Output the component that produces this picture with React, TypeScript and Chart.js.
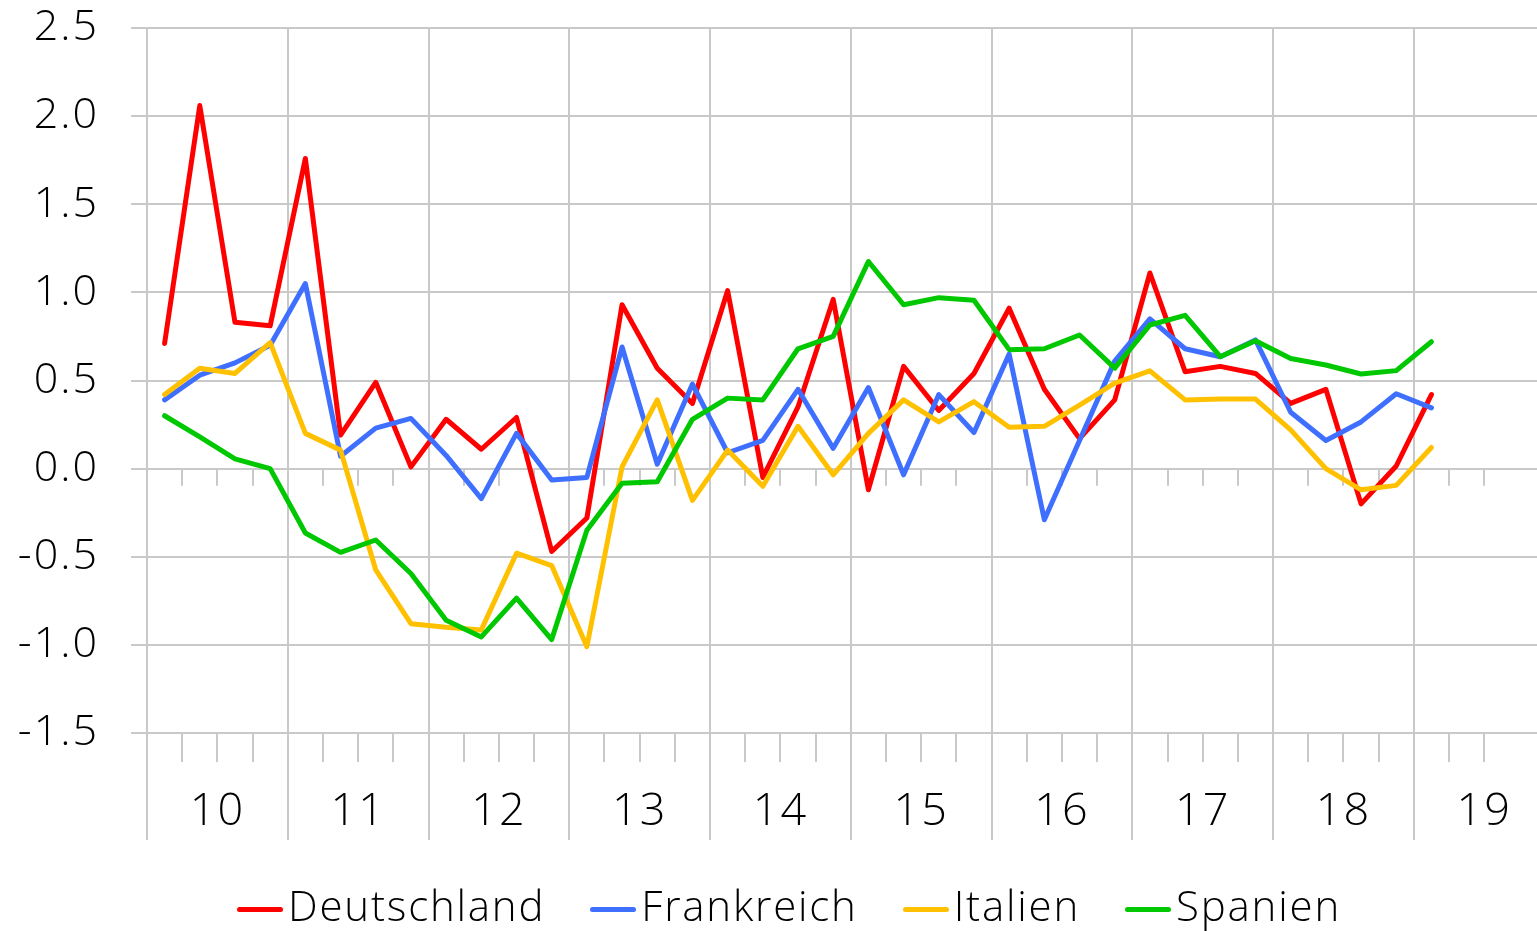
import React, { useEffect, useRef } from 'react';
import { Chart, registerables } from 'chart.js';

Chart.register(...registerables);

// Quarterly categories 2010 Q1 .. 2019 Q1
const quarters = [
  '2010Q1', '2010Q2', '2010Q3', '2010Q4',
  '2011Q1', '2011Q2', '2011Q3', '2011Q4',
  '2012Q1', '2012Q2', '2012Q3', '2012Q4',
  '2013Q1', '2013Q2', '2013Q3', '2013Q4',
  '2014Q1', '2014Q2', '2014Q3', '2014Q4',
  '2015Q1', '2015Q2', '2015Q3', '2015Q4',
  '2016Q1', '2016Q2', '2016Q3', '2016Q4',
  '2017Q1', '2017Q2', '2017Q3', '2017Q4',
  '2018Q1', '2018Q2', '2018Q3', '2018Q4',
  '2019Q1',
];

const yearLabels = ['10', '11', '12', '13', '14', '15', '16', '17', '18', '19'];

const deutschland = [
  0.71, 2.06, 0.83, 0.81, 1.76, 0.19, 0.49, 0.01, 0.28, 0.11, 0.29, -0.47,
  -0.28, 0.93, 0.57, 0.37, 1.01, -0.05, 0.35, 0.96, -0.12, 0.58, 0.33, 0.54,
  0.91, 0.45, 0.17, 0.39, 1.11, 0.55, 0.58, 0.54, 0.37, 0.45, -0.2, 0.015, 0.42,
];
const frankreich = [
  0.39, 0.53, 0.6, 0.7, 1.05, 0.07, 0.23, 0.285, 0.075, -0.17, 0.2, -0.065,
  -0.05, 0.69, 0.025, 0.48, 0.09, 0.16, 0.45, 0.115, 0.46, -0.035, 0.42, 0.205,
  0.65, -0.29, 0.16, 0.61, 0.85, 0.68, 0.635, 0.73, 0.32, 0.16, 0.265, 0.425, 0.345,
];
const italien = [
  0.42, 0.57, 0.54, 0.715, 0.2, 0.105, -0.575, -0.88, -0.9, -0.915, -0.48, -0.55,
  -1.01, 0.01, 0.39, -0.18, 0.105, -0.1, 0.24, -0.035, 0.2, 0.39, 0.265, 0.38,
  0.235, 0.24, 0.36, 0.485, 0.555, 0.39, 0.395, 0.395, 0.22, 0.0, -0.12, -0.095, 0.12,
];
const spanien = [
  0.3, 0.18, 0.055, 0.0, -0.365, -0.475, -0.405, -0.595, -0.86, -0.955, -0.735, -0.97,
  -0.35, -0.083, -0.075, 0.28, 0.4, 0.39, 0.68, 0.75, 1.175, 0.93, 0.97, 0.955,
  0.675, 0.68, 0.758, 0.57, 0.815, 0.87, 0.635, 0.725, 0.625, 0.588, 0.537, 0.556, 0.72,
];

const seriesNames = ['Deutschland', 'Frankreich', 'Italien', 'Spanien'];
const seriesValues = [deutschland, frankreich, italien, spanien];
const seriesColors = ['#ff0000', '#3f6fff', '#ffc000', '#00c800'];

const Y_MIN = -1.5;
const Y_MAX = 2.5;
const Y_STEP = 0.5;
const X_MAX = 39.5; // axis runs past the image edge into 2019
const GRID = '#c9c9c9';
const FONT = '"Open Sans", Lato, sans-serif';
const WEIGHT = 300;

const letterSpacing = {
  id: 'letterSpacing',
  beforeInit(chart: any) {
    chart.ctx.letterSpacing = '2px';
  },
  beforeDraw(chart: any) {
    chart.ctx.letterSpacing = '2px';
  },
};

const extraTicks = {
  id: 'extraTicks',
  beforeDatasetsDraw(chart: any) {
    const { ctx, scales } = chart;
    const x = scales.x;
    const y = scales.y;
    const y0 = y.getPixelForValue(0);
    const yb = y.getPixelForValue(Y_MIN);
    ctx.save();
    ctx.strokeStyle = GRID;
    ctx.lineWidth = 2;
    ctx.beginPath();
    for (const t of x.ticks) {
      const px = Math.round(x.getPixelForValue(t.value));
      if (t.value % 4 === 0) {
        ctx.moveTo(px, yb);
        ctx.lineTo(px, yb + 107);
      } else {
        ctx.moveTo(px, y0);
        ctx.lineTo(px, y0 + 17);
      }
    }
    ctx.stroke();
    ctx.restore();
  },
};

export default function App() {
  const canvasRef = useRef<HTMLCanvasElement | null>(null);

  useEffect(() => {
    document.body.style.margin = '0';
    const canvas = canvasRef.current;
    if (!canvas) return;
    const chart = new Chart(canvas, {
      type: 'line',
      data: {
        labels: quarters,
        datasets: seriesNames.map((name, s) => ({
          label: name,
          data: seriesValues[s].map((v, i) => ({ x: i + 0.5, y: v })),
          borderColor: seriesColors[s],
          backgroundColor: seriesColors[s],
          borderWidth: 5,
          borderCapStyle: 'round',
          borderJoinStyle: 'round',
          pointRadius: 0,
          pointHoverRadius: 0,
          tension: 0,
          order: seriesNames.length - s,
        })),
      },
      options: {
        animation: false,
        responsive: false,
        events: [],
        layout: { padding: { top: 28, left: 0, right: 0, bottom: 0 } },
        plugins: {
          legend: { display: false },
          tooltip: { enabled: false },
        },
        scales: {
          x: {
            type: 'linear',
            min: 0,
            max: X_MAX,
            afterBuildTicks: (scale: any) => {
              const ticks = [];
              for (let i = 0; i < Math.floor(X_MAX); i++) ticks.push({ value: i });
              scale.ticks = ticks;
            },
            afterFit: (scale: any) => {
              scale.height = 198;
              scale.paddingLeft = 0;
              scale.paddingRight = 0;
            },
            border: { display: false },
            grid: {
              drawOnChartArea: true,
              drawTicks: true,
              tickLength: 29,
              lineWidth: 2,
              tickWidth: 2,
              tickColor: GRID,
              color: (ctx: any) =>
                ctx.tick && ctx.tick.value % 4 === 0 ? GRID : 'rgba(0,0,0,0)',
            },
            ticks: {
              autoSkip: false,
              maxRotation: 0,
              minRotation: 0,
              padding: 23,
              color: '#000',
              font: { family: FONT, size: 45, weight: WEIGHT },
              callback: (value: any) => {
                const v = Number(value);
                return v % 4 === 2 ? yearLabels[(v - 2) / 4] : '';
              },
            },
          },
          y: {
            min: Y_MIN,
            max: Y_MAX,
            afterFit: (scale: any) => {
              scale.width = 147;
              scale.paddingTop = 0;
              scale.paddingBottom = 0;
            },
            border: { display: false },
            grid: {
              color: GRID,
              lineWidth: 2,
              drawTicks: true,
              tickLength: 16,
              tickColor: GRID,
              tickWidth: 2,
            },
            ticks: {
              stepSize: Y_STEP,
              padding: 32,
              color: '#000',
              font: { family: FONT, size: 43, weight: WEIGHT },
              callback: (value: any) => Number(value).toFixed(1),
            },
          },
        },
      },
      plugins: [letterSpacing, extraTicks],
    } as any);
    return () => chart.destroy();
  }, []);

  return (
    <div style={{ position: 'relative', width: 1537, height: 931, background: '#fff' }}>
      <canvas ref={canvasRef} width={1537} height={931} style={{ display: 'block' }} />
      <div
        style={{
          position: 'absolute',
          left: 237,
          top: 884,
          display: 'flex',
          alignItems: 'flex-start',
          fontFamily: FONT,
          fontWeight: WEIGHT,
          fontSize: 42,
          lineHeight: '42px',
          letterSpacing: '1.8px',
          color: '#000',
          whiteSpace: 'nowrap',
        }}
      >
        {seriesNames.map((name, s) => (
          <div key={name} style={{ display: 'flex', alignItems: 'flex-start', marginRight: 45 }}>
            <div
              style={{
                width: 46,
                height: 5,
                marginTop: 22.5,
                marginRight: 5,
                borderRadius: 3,
                background: seriesColors[s],
              }}
            />
            <span>{name}</span>
          </div>
        ))}
      </div>
    </div>
  );
}
